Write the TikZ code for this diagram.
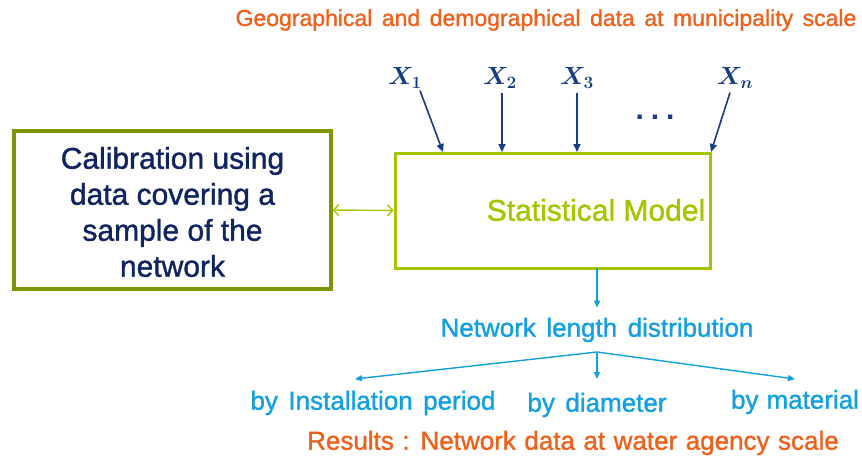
\documentclass[tikz,border=0pt]{standalone}
\usepackage{fontspec}
\setmainfont{Liberation Sans}[UprightFeatures={FakeBold=1.3}]
\usetikzlibrary{arrows.meta}
\definecolor{orng}{RGB}{236,98,28}
\definecolor{olivebox}{RGB}{122,150,0}
\definecolor{ygreen}{RGB}{166,196,0}
\definecolor{navytext}{RGB}{16,36,96}
\definecolor{dblue}{RGB}{24,60,130}
\definecolor{lblue}{RGB}{20,160,222}
\newcommand{\mywsp}[1]{\spaceskip=#1\relax}
\tikzset{
  txt/.style={inner sep=0pt, anchor=center},
  xarrow/.style={draw=dblue, line width=1.6pt, -{Triangle[length=8pt,width=7pt]}},
  barrow/.style={draw=lblue, line width=1.4pt, -{Triangle[length=7pt,width=6pt]}},
  xlabel/.style={txt, text=dblue, font=\boldmath\fontsize{27}{30}\selectfont},
  bluetxt/.style={txt, text=lblue, font=\fontsize{26}{30}\selectfont\mywsp{10.5pt}},
}
\begin{document}
\begin{tikzpicture}[x=1pt,y=-1pt]
\useasboundingbox (0,0) rectangle (862,461);
% title
\node[txt, text=orng, font=\fontsize{23}{28}\selectfont\mywsp{9.5pt}] (title) at (546,20) {Geographical and demographical data at municipality scale};
% boxes
\node[draw=olivebox, line width=3.5pt, minimum width=317pt, minimum height=158pt, inner sep=0pt] (calib) at (172.5,210) {};
\node[txt, text=navytext, align=center, font=\fontsize{30}{36}\selectfont] (calibtxt) at (172.5,212) {Calibration using\\data covering a\\sample of the\\network};
\node[draw=ygreen, line width=3pt, minimum width=315pt, minimum height=115pt, inner sep=0pt] (stat) at (552.5,210.5) {};
\node[txt, text=ygreen, font=\fontsize{30}{34}\selectfont] (stattxt) at (596,210) {Statistical Model};
\draw[draw=ygreen, line width=1.4pt, {Straight Barb[length=5pt,width=11pt]}-{Straight Barb[length=5pt,width=11pt]}] (calib.east) -- (stat.west);
% inputs
\node[xlabel] (x1) at (405,78) {$X_1$};
\node[xlabel] (x2) at (500,78) {$X_2$};
\node[xlabel] (x3) at (577,78) {$X_3$};
\node[xlabel] (xn) at (735,78) {$X_n$};
\node[txt, text=dblue, font=\bfseries\fontsize{30}{30}\selectfont] (dots) at (655,117) {.\hspace{7pt}.\hspace{7pt}.};
\coordinate (e1) at (443,152);
\coordinate (e2) at (502,152);
\coordinate (e3) at (577,152);
\coordinate (en) at (711,152);
\draw[xarrow] ([xshift=15pt,yshift=-2pt]x1.south) -- (e1);
\draw[xarrow] ([yshift=-4pt]x2.south -| e2) -- (e2);
\draw[xarrow] ([yshift=-4pt]x3.south -| e3) -- (e3);
\draw[xarrow] ([xshift=-5pt,yshift=-4pt]xn.south) -- (en);
% outputs
\coordinate (sb) at (597,268);
\node[bluetxt] (dist) at (597,330) {Network length distribution};
\draw[barrow] (sb) -- ([yshift=10pt]dist.north -| sb);
\coordinate (apex) at (597,352);
\node[bluetxt] (inst) at (373,403) {by Installation period};
\node[bluetxt] (diam) at (597,405) {by diameter};
\node[bluetxt, font=\fontsize{26}{30}\selectfont\mywsp{8pt}] (mat) at (795,402) {by material};
\coordinate (ti) at (355,379);
\coordinate (td) at (597,379);
\coordinate (tm) at (795,379);
\draw[barrow] (apex) -- (ti);
\draw[barrow] (apex) -- (td);
\draw[barrow] (apex) -- (tm);
\node[txt, text=orng, font=\fontsize{26}{30}\selectfont\mywsp{8.5pt}] (res) at (573,443) {Results : Network data at water agency scale};
\end{tikzpicture}
\end{document}
